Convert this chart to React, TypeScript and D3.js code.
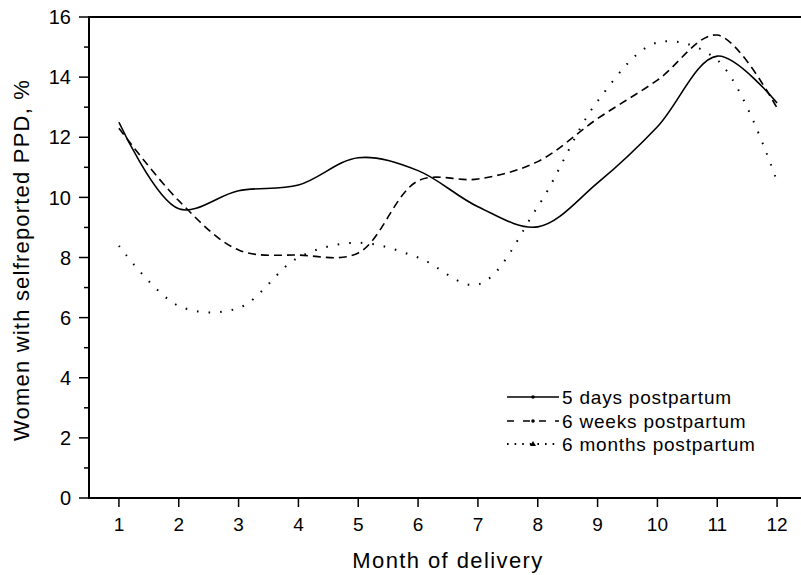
import React from 'react';
import * as d3 from 'd3';

// values at each month
const months = [1, 2, 3, 4, 5, 6, 7, 8, 9, 10, 11, 12];
const fiveDays = [12.5, 9.62, 10.22, 10.41, 11.32, 10.89, 9.69, 9.02, 10.48, 12.35, 14.7, 13.14];
const sixWeeks = [12.3, 9.89, 8.25, 8.08, 8.15, 10.55, 10.61, 11.19, 12.62, 13.9, 15.4, 12.97];
const sixMonths = [8.39, 6.39, 6.32, 8.0, 8.49, 8.0, 7.1, 9.69, 13.2, 15.15, 14.57, 10.52];
const seriesNames = ['5 days postpartum', '6 weeks postpartum', '6 months postpartum'];
const yTicks = [0, 2, 4, 6, 8, 10, 12, 14, 16];
const yMinorTicks = [1, 3, 5, 7, 9, 11, 13, 15];

const W = 801;
const H = 575;
const FONT = '"Liberation Sans", Arial, sans-serif';

const dashes = ['none', '8,5', '1.6,10'];

export default function App() {
  const x = d3.scaleLinear().domain([0.5, 12.5]).range([89, 807]);
  const y = d3.scaleLinear().domain([0, 16]).range([498, 17]);

  const line = d3.line<[number, number]>()
    .x(d => x(d[0]))
    .y(d => y(d[1]))
    .curve(d3.curveCatmullRom.alpha(0.5));

  const series = [fiveDays, sixWeeks, sixMonths].map(vals =>
    months.map((m, i) => [m, vals[i]] as [number, number]));

  const legendX = 507;
  const legendY = [397, 421, 444];

  return (
    <>
      <style>{'body{margin:0}'}</style>
      <svg width={W} height={H} style={{ display: 'block', background: '#fff' }} fontFamily={FONT}>
        {/* frame */}
        <rect x={x(0.5)} y={y(16)} width={x(12.5) - x(0.5)} height={y(0) - y(16)}
          fill="none" stroke="#000" strokeWidth={2} />

        {/* y ticks */}
        {yTicks.map(t => (
          <g key={'y' + t}>
            <line x1={x(0.5) - 10} x2={x(0.5)} y1={y(t)} y2={y(t)} stroke="#000" strokeWidth={1.5} />
            <text x={x(0.5) - 18} y={y(t)} dy="0.36em" textAnchor="end" fontSize={20}>{t}</text>
          </g>
        ))}
        {yMinorTicks.map(t => (
          <line key={'ym' + t} x1={x(0.5) - 5} x2={x(0.5)} y1={y(t)} y2={y(t)} stroke="#000" strokeWidth={1.5} />
        ))}

        {/* x ticks */}
        {months.map(m => (
          <g key={'x' + m}>
            <line x1={x(m)} x2={x(m)} y1={y(0)} y2={y(0) + 9} stroke="#000" strokeWidth={1.5} />
            <text x={x(m)} y={531} textAnchor="middle" fontSize={19}>{m}</text>
          </g>
        ))}

        {/* axis titles */}
        <text x={448} y={568} textAnchor="middle" fontSize={22} letterSpacing={1.4}>Month of delivery</text>
        <text transform="translate(29,260) rotate(-90)" textAnchor="middle" fontSize={22} letterSpacing={1.2}>
          Women with selfreported PPD, %
        </text>

        {/* curves */}
        {series.map((pts, i) => (
          <path key={'s' + i} d={line(pts) ?? ''} fill="none" stroke="#000"
            strokeWidth={i === 2 ? 2 : 1.6} strokeDasharray={dashes[i]} />
        ))}

        {/* legend */}
        {seriesNames.map((name, i) => (
          <g key={'l' + i}>
            <line x1={legendX} x2={legendX + 52} y1={legendY[i]} y2={legendY[i]} stroke="#000"
              strokeWidth={i === 2 ? 2 : 1.6} strokeDasharray={dashes[i] === 'none' ? undefined : (i === 1 ? '7,9' : '1.6,6')} />
            {i < 2
              ? <circle cx={legendX + 26} cy={legendY[i]} r={1.8} fill="#000" />
              : <path d={`M${legendX + 23},${legendY[i] + 2}L${legendX + 26},${legendY[i] - 3}L${legendX + 29},${legendY[i] + 2}Z`} fill="#000" />}
            <text x={legendX + 55} y={legendY[i]} dy="0.36em" fontSize={19} letterSpacing={0.8}>{name}</text>
          </g>
        ))}
      </svg>
    </>
  );
}
